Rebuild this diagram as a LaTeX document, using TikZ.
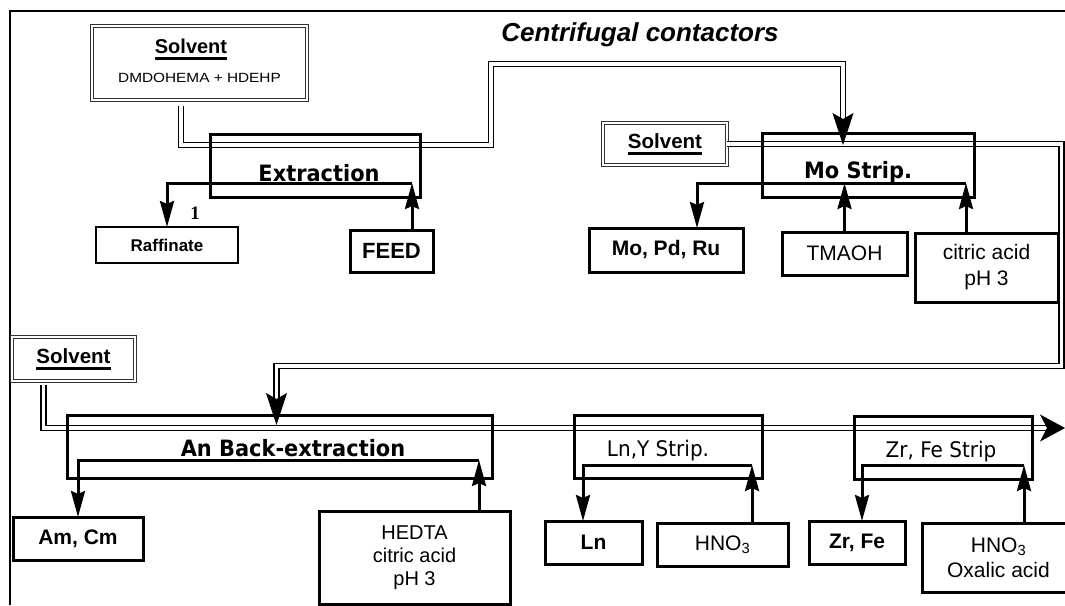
\documentclass[tikz,border=0pt]{standalone}
\usepackage{fontspec}
\usepackage{graphicx}
\setmainfont{Liberation Sans}
\newfontfamily\stagefont{DejaVu Sans}
\newfontfamily\numfont{Liberation Serif}
\usetikzlibrary{arrows.meta}
% thick underline for the solvent boxes
\newcommand\ulsolv[1]{\setbox0\hbox{#1}\leavevmode\rlap{\rule[-6.5pt]{\wd0}{2.6pt}}\box0}
% slightly narrowed stage titles
\newcommand\narrowtxt[1]{\scalebox{0.93}[1]{#1}}
\begin{document}
\begin{tikzpicture}[x=1pt,y=-1pt,
  every node/.style={inner sep=0pt, outer sep=0pt},
  frame/.style={line width=2pt},
  dline/.style={draw=black, line width=1.6pt, double=white, double distance=3.2pt},
  stagebox/.style={draw, line width=3pt},
  unitbox/.style={draw, line width=3pt, align=center},
  thinbox/.style={draw, line width=1.5pt, align=center},
  solvbox/.style={draw=black!80, line width=1.2pt, double=white, double distance=1.8pt,
                  align=center, font=\bfseries\fontsize{20.5}{24}\selectfont},
  flow/.style={line width=3pt, -{Stealth[length=26pt,width=14pt,inset=3pt]}},
  dhead/.style={draw=white, line width=1pt, -{Stealth[color=black,length=32pt,width=21pt,inset=6pt]}},
  endhead/.style={draw=white, line width=1pt, -{Stealth[color=black,length=25pt,width=27pt,inset=7pt]}},
  stagelabel/.style={anchor=base, font=\stagefont\bfseries\fontsize{22.5}{26}\selectfont},
  steplabel/.style={anchor=base, font=\stagefont\fontsize{21.5}{25}\selectfont},
  boldtxt/.style={font=\bfseries\fontsize{21}{26}\selectfont},
  plaintxt/.style={font=\fontsize{21}{26}\selectfont},
]
\useasboundingbox (0,0) rectangle (1065,605);

% outer frame (top and left edges)
\draw[frame] (10,605) -- (10,11) -- (1065,11);

% title
\node[font=\bfseries\itshape\fontsize{26}{30}\selectfont] (title) at (640,35) {Centrifugal contactors};

% solvent feeds
\node[solvbox, minimum width=215pt, minimum height=74pt] (solvA) at (199.5,63) {};
\node[anchor=base, font=\bfseries\fontsize{20}{24}\selectfont] (solvAt) at (191,53) {\ulsolv{Solvent}};
\node[anchor=base, font=\fontsize{14.5}{17}\selectfont] (solvAs) at (199.5,82.5) {\scalebox{1.06}[0.92]{DMDOHEMA + HDEHP}};
\node[solvbox, minimum width=124pt, minimum height=42pt] (solvB) at (665,144) {\ulsolv{Solvent}};
\node[solvbox, minimum width=123pt, minimum height=44pt] (solvC) at (73.5,359) {\ulsolv{Solvent}};

% solvent route (double lines)
\coordinate (a0) at (181,106);
\coordinate (a1) at (491,145);
\coordinate (a2) at (843,64);
\coordinate (moIn) at (843,145);
\draw[dline, shorten >=18pt] (a0) |- (a1) |- (a2) -- (moIn);

\coordinate (b1) at (1061.5,144);
\coordinate (b2) at (276.5,366);
\coordinate (anIn) at (276.5,425);
\draw[dline, shorten >=18pt] (solvB.east) -- (b1) |- (b2) -- (anIn);

\coordinate (c0) at ([xshift=-30pt,yshift=-4pt]solvC.south);
\coordinate (cEnd) at (1065,428);
\draw[dline, shorten >=17pt] (c0) |- (cEnd);

% contactor stages
\node[stagebox, minimum width=210pt, minimum height=63pt] (extr) at (315,165.5) {};
\node[stagelabel] (extrL) at (319,181) {\narrowtxt{Extraction}};
\node[stagebox, minimum width=212pt, minimum height=64pt] (mo) at (868,165) {};
\node[stagelabel] (moL) at (858,178) {\narrowtxt{Mo Strip.}};
\node[stagebox, minimum width=425pt, minimum height=63pt] (anb) at (279.5,446.5) {};
\node[stagelabel] (anbL) at (293,456) {\narrowtxt{An Back-extraction}};
\node[stagebox, minimum width=188pt, minimum height=63pt] (lny) at (668,446.5) {};
\node[steplabel] (lnyL) at (658,456) {\narrowtxt{Ln,Y Strip.}};
\node[stagebox, minimum width=178pt, minimum height=63pt] (zrfe) at (943,447.5) {};
\node[steplabel] (zrfeL) at (941,457) {\narrowtxt{Zr, Fe Strip}};

% inlet and outlet streams
\node[thinbox, font=\bfseries\fontsize{17}{20}\selectfont, minimum width=142pt, minimum height=36pt] (raff) at (167,245) {Raffinate};
\node[unitbox, font=\bfseries\fontsize{22}{26}\selectfont, minimum width=83pt, minimum height=42pt] (feed) at (391.5,251) {FEED};
\node[unitbox, boldtxt, minimum width=154pt, minimum height=44pt] (mopdru) at (666,250) {Mo, Pd, Ru};
\node[unitbox, plaintxt, minimum width=125pt, minimum height=43pt] (tmaoh) at (844.5,253.5) {TMAOH};
\node[unitbox, plaintxt, minimum width=143pt, minimum height=69pt] (citric) at (986.5,267.5) {citric acid\\pH 3};
\node[unitbox, boldtxt, minimum width=130pt, minimum height=43pt] (amcm) at (78,538.5) {Am, Cm};
\node[unitbox, font=\fontsize{20}{23}\selectfont, minimum width=191pt, minimum height=93pt] (hedta) at (414.5,557.5) {HEDTA\\citric acid\\pH 3};
\node[unitbox, boldtxt, minimum width=97pt, minimum height=43pt] (ln) at (593.5,542.5) {Ln};
\node[unitbox, plaintxt, minimum width=131pt, minimum height=43pt] (hno3) at (722.5,544.5) {HNO\textsubscript{3}};
\node[unitbox, boldtxt, minimum width=96pt, minimum height=43pt] (zr) at (857,542.5) {Zr, Fe};
\node[unitbox, font=\fontsize{21}{25}\selectfont, minimum width=153pt, minimum height=69pt] (oxal) at (998.5,557.5) {HNO\textsubscript{3}\\Oxalic acid};

% aqueous flows through each stage
\coordinate (exR) at (412,183);
\draw[flow] (exR) -| (raff.north);
\draw[flow] (feed.north -| exR) -- (exR);
\node[font=\numfont\bfseries\fontsize{19}{20}\selectfont] (one) at (195,213) {1};

\coordinate (moR) at (966,183);
\draw[flow] (moR) -| ([xshift=31pt]mopdru.north);
\draw[flow] (tmaoh.north) -- (tmaoh.north |- moR);
\draw[flow] (citric.north -| moR) -- (moR);

\coordinate (anR) at (479,460);
\draw[flow] (anR) -| (amcm.north);
\draw[flow] (hedta.north -| anR) -- (anR);

\coordinate (lnR) at (752,465);
\draw[flow] (lnR) -| ([xshift=-10.5pt]ln.north);
\draw[flow] (hno3.north -| lnR) -- (lnR);

\coordinate (zrR) at (1024,465);
\draw[flow] (zrR) -| ([xshift=5pt]zr.north);
\draw[flow] (oxal.north -| zrR) -- (zrR);

% heads of the solvent route
\draw[dhead] ([yshift=32pt]moIn) -- (moIn);
\draw[dhead] ([yshift=32pt]anIn) -- (anIn);
\draw[endhead] ([xshift=-30pt]cEnd) -- (cEnd);
\end{tikzpicture}
\end{document}
